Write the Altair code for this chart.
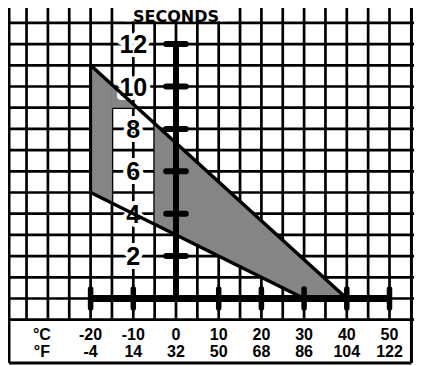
import altair as alt
import pandas as pd
import numpy as np

# ---- data ----
celsius_ticks = [-20, -10, 0, 10, 20, 30, 40, 50]
celsius_labels = ["-20", "-10", "0", "10", "20", "30", "40", "50"]
fahrenheit_labels = ["-4", "14", "32", "50", "68", "86", "104", "122"]
seconds_ticks = [2, 4, 6, 8, 10, 12]
seconds_labels = ["2", "4", "6", "8", "10", "12"]
upper_line_x = [-20, 40]
upper_line_y = [11, 0]
lower_line_x = [-20, 30]
lower_line_y = [5, 0]
gap_x = [-15, -5]      # unshaded column inside the band
gap_top = 9            # above this the column is shaded again
grid_x = list(range(-35, 55, 5))
grid_y = [-1] + list(range(0, 14))

# ---- scales (page pixel mapping) ----
PX_PER_C = 4.27
PX_PER_S = 21.2
X_ZERO_PAGE = 176.0
Y_ZERO_PAGE = 298.5
W, H = 406, 357
X0 = (8 - X_ZERO_PAGE) / PX_PER_C
X1 = X0 + W / PX_PER_C
Y1 = (Y_ZERO_PAGE - 8) / PX_PER_S
Y0 = Y1 - H / PX_PER_S
LEFT_B = (9 - X_ZERO_PAGE) / PX_PER_C
RIGHT_B = 55.14
BOTTOM_B = -3.04
TOP = Y1 + 1

xs = alt.Scale(domain=[X0, X1], nice=False, zero=False)
ys = alt.Scale(domain=[Y0, Y1], nice=False, zero=False)


def X(f):
    return alt.X(f, type="quantitative", scale=xs, axis=None)


def Y(f):
    return alt.Y(f, type="quantitative", scale=ys, axis=None)


def upper(x):
    return float(np.interp(x, upper_line_x, upper_line_y))


def lower(x):
    return float(np.interp(x, lower_line_x, lower_line_y, right=0))


# ---- shaded band split around the unshaded column ----
xb_end = upper_line_x[0] + (upper_line_y[0] - gap_top) / (
    (upper_line_y[0] - upper_line_y[1]) / (upper_line_x[1] - upper_line_x[0]))
rows = []
for xv in [upper_line_x[0], gap_x[0]]:
    rows.append({"piece": "A", "x": xv, "lo": lower(xv), "hi": upper(xv)})
for xv in [gap_x[0], xb_end]:
    rows.append({"piece": "B", "x": xv, "lo": gap_top, "hi": upper(xv)})
for xv in [gap_x[1], lower_line_x[1], upper_line_x[1]]:
    rows.append({"piece": "C", "x": xv, "lo": max(lower(xv), 0), "hi": upper(xv)})
band = pd.DataFrame(rows)

GRID_W = 2.7

vgrid = pd.DataFrame({"x": grid_x, "y1": -1, "y2": TOP})
hgrid = pd.DataFrame({"y": grid_y, "x1": X0 - 1, "x2": X1 + 1})
borders_v = pd.DataFrame({"x": [LEFT_B, RIGHT_B], "y1": BOTTOM_B, "y2": TOP})
borders_h = pd.DataFrame({"y": [BOTTOM_B], "x1": LEFT_B, "x2": RIGHT_B})

layers = []
layers.append(alt.Chart(vgrid).mark_rule(color="black", strokeWidth=GRID_W).encode(
    x=X("x"), y=Y("y1"), y2="y2"))
layers.append(alt.Chart(hgrid).mark_rule(color="black", strokeWidth=GRID_W).encode(
    y=Y("y"), x=X("x1"), x2="x2"))
layers.append(alt.Chart(borders_v).mark_rule(color="black", strokeWidth=3).encode(
    x=X("x"), y=Y("y1"), y2="y2"))
layers.append(alt.Chart(borders_h).mark_rule(color="black", strokeWidth=3).encode(
    y=Y("y"), x=X("x1"), x2="x2"))

# band
layers.append(alt.Chart(band).mark_area(color="#858585", opacity=1).encode(
    x=X("x"), y=Y("hi"), y2="lo", detail="piece:N"))

# SECONDS title with white box
title_box = pd.DataFrame({"x1": [-11.8], "x2": [11.7], "y1": [Y1 + 0.5], "y2": [13.08]})
layers.append(alt.Chart(title_box).mark_rect(color="white").encode(
    x=X("x1"), x2="x2", y=Y("y1"), y2="y2"))
layers.append(alt.Chart(pd.DataFrame({"x": [0], "y": [13.057], "t": ["SECONDS"]})).mark_text(
    font="DejaVu Sans", fontWeight="bold", fontSize=16, baseline="alphabetic",
    align="center", color="black").encode(x=X("x"), y=Y("y"), text="t:N"))

# y labels with halo
ylab = pd.DataFrame({"x": -10, "y": seconds_ticks, "t": seconds_labels})
layers.append(alt.Chart(ylab).mark_text(
    font="Liberation Sans", fontWeight="bold", fontSize=25, baseline="alphabetic",
    align="center", dy=9, color="white", stroke="white", strokeWidth=8,
    strokeJoin="round").encode(x=X("x"), y=Y("y"), text="t:N"))
layers.append(alt.Chart(ylab).mark_text(
    font="Liberation Sans", fontWeight="bold", fontSize=25, baseline="alphabetic",
    align="center", dy=9, color="black").encode(x=X("x"), y=Y("y"), text="t:N"))

# outline lines of the band
lines = pd.DataFrame({
    "x": upper_line_x + lower_line_x,
    "y": upper_line_y + lower_line_y,
    "ln": ["u", "u", "l", "l"],
})
layers.append(alt.Chart(lines).mark_line(color="black", strokeWidth=3.5).encode(
    x=X("x"), y=Y("y"), detail="ln:N"))
left_edge = pd.DataFrame({"x": [upper_line_x[0]], "y1": [lower_line_y[0]], "y2": [upper_line_y[0]]})
layers.append(alt.Chart(left_edge).mark_rule(color="black", strokeWidth=3).encode(
    x=X("x"), y=Y("y1"), y2="y2"))

# thick axes
layers.append(alt.Chart(pd.DataFrame({"x": [0], "y1": [0], "y2": [12]})).mark_rule(
    color="black", strokeWidth=6).encode(x=X("x"), y=Y("y1"), y2="y2"))
layers.append(alt.Chart(pd.DataFrame({"y": [0], "x1": [-20], "x2": [50]})).mark_rule(
    color="black", strokeWidth=7).encode(y=Y("y"), x=X("x1"), x2="x2"))

# ticks
ytick = pd.DataFrame({"y": seconds_ticks, "x1": -2.3, "x2": 2.3})
layers.append(alt.Chart(ytick).mark_rule(color="black", strokeWidth=6, strokeCap="round").encode(
    y=Y("y"), x=X("x1"), x2="x2"))
xtick = pd.DataFrame({"x": [c for c in celsius_ticks if c != 0], "y1": -0.45, "y2": 0.45})
layers.append(alt.Chart(xtick).mark_rule(color="black", strokeWidth=5.5, strokeCap="round").encode(
    x=X("x"), y=Y("y1"), y2="y2"))

# bottom labels
row1 = pd.DataFrame({"x": celsius_ticks + [-31.4], "y": -1.96, "t": celsius_labels + ["°C"]})
row2 = pd.DataFrame({"x": celsius_ticks + [-31.4], "y": -2.74, "t": fahrenheit_labels + ["°F"]})
for r in (row1, row2):
    layers.append(alt.Chart(r).mark_text(
        font="Liberation Sans", fontWeight="bold", fontSize=16, baseline="alphabetic",
        align="center", color="black").encode(x=X("x"), y=Y("y"), text="t:N"))

chart = alt.layer(*layers).properties(
    width=W, height=H, padding=0,
    autosize=alt.AutoSizeParams(type="none"),
).configure_view(stroke=None)

chart.save("out.html", embed_options={"renderer": "svg", "actions": False})
